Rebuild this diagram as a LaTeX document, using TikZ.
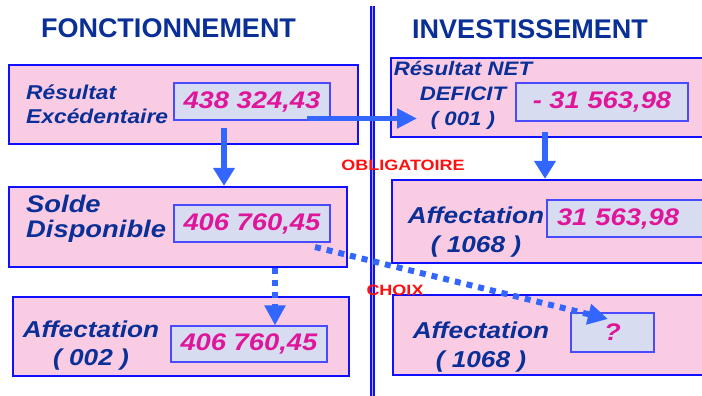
\documentclass[tikz,border=0pt]{standalone}
\usepackage{fontspec}
\setmainfont{Liberation Sans}
\newfontfamily\boxfont[FakeStretch=1.14]{Liberation Sans}
\newfontfamily\notefont[FakeStretch=1.2]{Liberation Sans}
\usetikzlibrary{arrows.meta}

\definecolor{pinkfill}{HTML}{FACCE4}
\definecolor{valfill}{HTML}{D8DCF0}
\definecolor{boxblue}{HTML}{1010FF}
\definecolor{valblue}{HTML}{4A4AFF}
\definecolor{textblue}{HTML}{0A2F96}
\definecolor{valmagenta}{HTML}{E0169A}
\definecolor{arrowblue}{HTML}{3366FF}
\definecolor{notered}{HTML}{FF1010}

\begin{document}
\begin{tikzpicture}[x=1pt, y=-1pt,
    outerbox/.style={draw=boxblue, line width=2.4pt, fill=pinkfill, inner sep=0pt},
    valbox/.style={draw=valblue, line width=1.1pt, fill=valfill, inner sep=0pt,
        text=valmagenta, font=\boxfont\bfseries\itshape\fontsize{24}{28}\selectfont},
    boxlabel/.style={text=textblue, inner sep=0pt},
    title/.style={text=textblue, inner sep=0pt, font=\bfseries\fontsize{27}{30}\selectfont},
    note/.style={text=notered, inner sep=0pt, font=\notefont\bfseries\fontsize{15}{17}\selectfont},
    solidarrow/.style={draw=arrowblue, line width=6pt, -{Triangle[width=21pt,length=18pt]}},
    dotarrow/.style={draw=arrowblue, line width=6pt, dash pattern=on 6pt off 6pt,
        -{Triangle[width=20pt,length=20pt]}}]

    \useasboundingbox (0,0) rectangle (702,396);
    \clip (0,0) rectangle (702,396);

    % titres
    \node[title] (titlefonc) at (168.5,28) {FONCTIONNEMENT};
    \node[title] (titleinv) at (530,29) {INVESTISSEMENT};

    % separation
    \draw[boxblue, line width=2pt, double=blue!35, double distance=1.4pt] (372.5,6) -- (372.5,400);

    % colonne fonctionnement
    \node[outerbox, minimum width=349pt, minimum height=79pt] (resexc) at (183.5,104.5){};
    \node[valbox, minimum width=156pt, minimum height=37pt] (valexc) at (252,101.5){438 324,43};
    \node[boxlabel, anchor=west, align=left,
        font=\boxfont\bfseries\itshape\fontsize{20}{24}\selectfont] (labexc) at (26,104){R\'esultat\\Exc\'edentaire};

    \node[outerbox, minimum width=338pt, minimum height=80pt] (solde) at (178,227){};
    \node[valbox, minimum width=156pt, minimum height=37pt] (valsolde) at (252,223.5){406 760,45};
    \node[boxlabel, anchor=west, align=left,
        font=\boxfont\bfseries\itshape\fontsize{24}{25}\selectfont] (labsolde) at (26,219){Solde\\Disponible};

    \node[outerbox, minimum width=336pt, minimum height=79pt] (aff002) at (181,336.5){};
    \node[valbox, minimum width=156pt, minimum height=36pt] (val002) at (249,344){406 760,45};
    \node[boxlabel, align=center,
        font=\boxfont\bfseries\itshape\fontsize{23}{28}\selectfont] (lab002) at (91,346){Affectation\\( 002 )};

    % colonne investissement
    \node[outerbox, minimum width=321pt, minimum height=79pt] (resnet) at (551.5,97.5){};
    \node[valbox, minimum width=172pt, minimum height=38pt] (valnet) at (602,102){- 31 563,98};
    \node[boxlabel, align=center,
        font=\boxfont\bfseries\itshape\fontsize{19.5}{25}\selectfont] (labnet) at (463,95){R\'esultat NET\\DEFICIT\\( 001 )};

    \node[outerbox, minimum width=320pt, minimum height=83pt] (aff1068a) at (552,221.5){};
    \node[valbox, minimum width=165pt, minimum height=37pt, text width=145pt, align=left,
        inner xsep=10pt] (val1068a) at (629.5,218.5){31 563,98};
    \node[boxlabel, align=center,
        font=\boxfont\bfseries\itshape\fontsize{23}{29}\selectfont] (lab1068a) at (476,232){Affectation\\( 1068 )};

    \node[outerbox, minimum width=319pt, minimum height=80pt] (aff1068b) at (552.5,335){};
    \node[valbox, minimum width=83pt, minimum height=39pt] (val1068b) at (612.5,332.5){?};
    \node[boxlabel, align=center,
        font=\boxfont\bfseries\itshape\fontsize{23}{29}\selectfont] (lab1068b) at (481,347){Affectation\\( 1068 )};

    % fleches
    \coordinate (excdown) at (224,128);
    \draw[solidarrow] (excdown) -- (excdown |- solde.north);

    \coordinate (excright) at (307,118.5);
    \coordinate (netin) at (417,118.5);
    \draw[draw=arrowblue, line width=5pt, -{Triangle[width=19pt,length=20pt]}] (excright) -- (netin);

    \coordinate (netdown) at (545,132);
    \draw[solidarrow] (netdown) -- (netdown |- aff1068a.north);

    \coordinate (soldedown) at (275,0);
    \draw[dotarrow] (soldedown |- solde.south) -- (soldedown |- val002.north);

    \coordinate (soldeout) at (315,247);
    \coordinate (choixin) at (608,319);
    \draw[dotarrow] (soldeout) -- (choixin);

    \node[note] (oblig) at (403,165){OBLIGATOIRE};
    \node[note] (choix) at (395,290.5){CHOIX};
\end{tikzpicture}
\end{document}
